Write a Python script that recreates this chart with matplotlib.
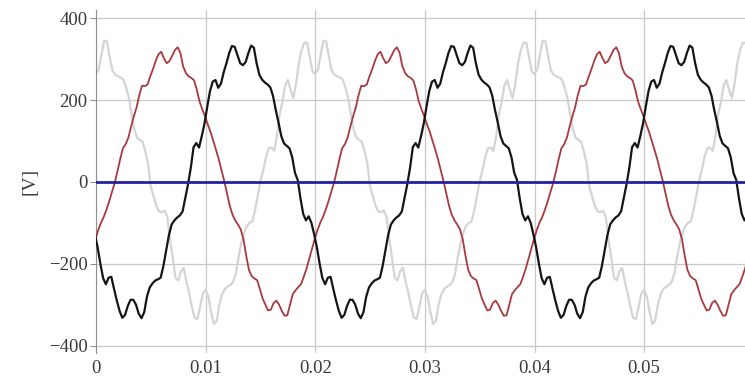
import numpy as np
import matplotlib
matplotlib.use("Agg")
import matplotlib.pyplot as plt

# one period of each phase voltage [V],
# sampled every 0.25 ms starting 5 ms before the positive peak centre
step = 0.00025
period = 0.02

gray_start = -0.0050
gray_pos = [2, 28, 60, 82, 84, 76, 110, 165, 195, 235,
            249, 225, 205, 240, 290, 322, 340, 340, 305, 270,
            263, 275, 312, 345, 343, 305, 272, 262, 258, 255,
            250, 230, 205, 165, 128, 108, 103, 98, 75, 45]
gray_neg = [-12, -35, -58, -72, -74, -70, -85, -140, -185, -235,
            -240, -218, -210, -245, -272, -305, -332, -335, -305, -272,
            -264, -280, -318, -347, -340, -300, -275, -262, -256, -252,
            -245, -225, -185, -150, -125, -108, -100, -97, -70, -35]

red_start = 0.0017
red_pos = [-3, 25, 55, 82, 92, 108, 135, 160, 182, 212,
           235, 234, 238, 258, 276, 296, 312, 318, 302, 290,
           295, 308, 322, 329, 315, 282, 266, 258, 254, 248,
           225, 196, 177, 160, 140, 122, 100, 78, 55, 28]
red_neg = [2, -28, -58, -80, -94, -104, -116, -140, -180, -215,
           -230, -236, -240, -262, -285, -300, -314, -312, -296, -290,
           -300, -315, -327, -326, -300, -274, -265, -257, -250, -232,
           -212, -188, -165, -140, -118, -100, -86, -68, -48, -25]

black_start = 0.0084
black_pos = [-5, 35, 85, 95, 84, 112, 143, 184, 222, 245,
             249, 230, 240, 268, 290, 315, 332, 330, 310, 290,
             285, 293, 315, 333, 328, 290, 262, 250, 243, 238,
             231, 210, 175, 145, 112, 94, 88, 82, 60, 22]
black_neg = [5, -40, -78, -94, -84, -100, -128, -160, -200, -235,
             -250, -234, -232, -262, -290, -315, -332, -325, -303, -288,
             -288, -300, -322, -333, -318, -280, -258, -248, -241, -238,
             -234, -205, -168, -130, -104, -94, -87, -82, -72, -38]

# neutral trace, flat at zero
blue_t = [0.0, 0.06]
blue_v = [0.0, 0.0]

xticks = [0, 0.01, 0.02, 0.03, 0.04, 0.05]
xticklabels = ["0", "0.01", "0.02", "0.03", "0.04", "0.05"]
yticks = [-400, -200, 0, 200, 400]


def phase(start, pos, neg):
    one = np.array(pos + neg, dtype=float)
    n = len(one)
    k = np.arange(-n, 4 * n)
    t = start + k * step
    v = np.tile(one, 5)
    return t, v


plt.rcParams['font.family'] = ['Liberation Serif', 'DejaVu Serif']

fig = plt.figure(figsize=(7.45, 3.81), dpi=100)
ax = fig.add_axes([96 / 745, 1 - 353 / 381, 1 - 96 / 745, 343 / 381])

t, v = phase(gray_start, gray_pos, gray_neg)
ax.plot(t, v, color='#d4d4d4', lw=1.6, zorder=2)
t, v = phase(red_start, red_pos, red_neg)
ax.plot(t, v, color='#a83a3e', lw=1.3, zorder=3)
t, v = phase(black_start, black_pos, black_neg)
ax.plot(t, v, color='#151515', lw=1.6, zorder=4)
ax.plot(blue_t, blue_v, color='#2222a0', lw=2.0, zorder=5)

ax.set_xlim(0, 0.0592)
ax.set_ylim(-418, 420)
ax.set_xticks(xticks)
ax.set_xticklabels(xticklabels)
ax.set_yticks(yticks)
ax.grid(True, color='#c8c8c8', lw=0.9)
ax.set_axisbelow(True)

for s in ['top', 'right', 'bottom']:
    ax.spines[s].set_visible(False)
ax.spines['left'].set_color('#909090')
ax.tick_params(axis='both', labelsize=13.5, colors='#909090',
               labelcolor='#3a3a3a', length=4)
ax.tick_params(axis='y', pad=2)
ax.tick_params(axis='x', length=0, pad=5)
ax.set_ylabel('[V]', fontsize=14, color='#3a3a3a')
ax.yaxis.set_label_coords(-0.089, 0.5)

fig.savefig('out.png', dpi=100)
